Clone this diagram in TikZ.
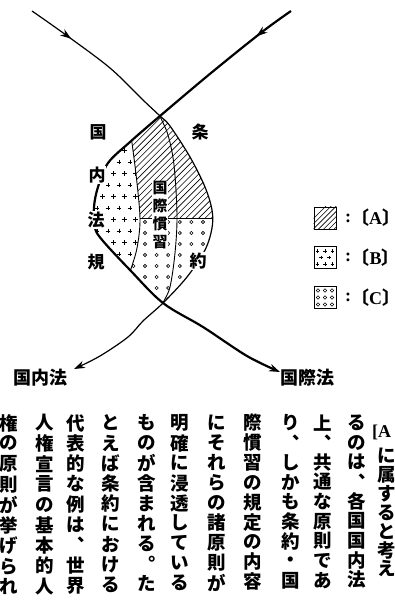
\documentclass[tikz,border=0pt]{standalone}
\usepackage{fontspec}
\setmainfont{Liberation Serif}
\newfontfamily\cjk{Noto Sans CJK JP}
\usetikzlibrary{arrows.meta,decorations.markings}
\begin{document}
\begin{tikzpicture}[x=1pt,y=-1pt,
  >={Stealth[length=11pt,width=7.5pt]},
  thinline/.style={line width=1.2pt},
  thickline/.style={line width=2.2pt},
  innerline/.style={line width=0.9pt},
  hatch/.style={line width=0.6pt},
  plusmark/.style={line width=0.7pt},
  ring/.style={line width=0.6pt},
  midarrow/.style={decoration={markings, mark=at position #1 with {\arrow{>}}}, postaction={decorate}},
  lbl/.style={font=\cjk\bfseries\fontsize{17}{17}\selectfont, inner sep=0.6pt, fill=white},
  endlbl/.style={font=\cjk\bfseries\fontsize{18}{18}\selectfont, inner sep=0pt},
  body/.style={font=\cjk\bfseries\fontsize{18.5}{18.5}\selectfont, inner sep=0pt},
  legbox/.style={draw, line width=0.9pt, minimum size=22pt, inner sep=0pt},
  legtext/.style={font=\bfseries\fontsize{18}{18}\selectfont, inner sep=0pt}
]
\useasboundingbox (0,0) rectangle (395,600);

\def\thinpath{plot[smooth,tension=0.55] coordinates {(32,11) (66,35) (110,68) (143,100) (160,116) (170,126) (190,157) (205,187) (212,210) (212,228) (205,250) (187,277) (163,303) (143,321) (128,337) (100,356) (74,369)}}
\def\thickpath{plot[smooth,tension=0.55] coordinates {(291,11) (262,32) (211,73) (160,116) (130,142) (108,163) (98,187) (94,207) (95,228) (103,241) (130,270) (163,303) (203,327) (247,356) (280,372)}}
\def\conepath{plot[smooth,tension=0.55] coordinates {(128,118) (132,143) (137,183) (140,220) (137,248) (130,272) (121,300)}}
\def\ctwopath{plot[smooth,tension=0.55] coordinates {(155,100) (160,116) (168,135) (174,165) (177,215) (175,253) (170,287) (163,303) (158,318)}}

\coordinate (T) at (160,116);
\coordinate (Bo) at (163,303);

% ---- filled regions inside the lens ----
\begin{scope}
  \clip \thinpath -- (-200,369) -- (-200,11) -- cycle;
  \clip \thickpath -- (600,372) -- (600,11) -- cycle;
  \begin{scope}
    \clip \conepath -- (-200,300) -- (-200,118) -- cycle;
    \foreach \j in {0,...,13} \foreach \i in {0,...,6}
      \draw[plusmark] ({86+11*\i+5.5*mod(\j,2)},{139+11.5*\j}) +(-2.3,0) -- +(2.3,0) +(0,-2.3) -- +(0,2.3);
  \end{scope}
  \begin{scope}
    \clip \conepath -- (600,300) -- (600,118) -- cycle;
    \begin{scope}
      \clip (100,100) rectangle (250,218);
      \foreach \k in {0,...,30} \draw[hatch] ({48+6.3*\k},224) -- ++(120,-120);
    \end{scope}
    \begin{scope}
      \clip (100,218) rectangle (250,320);
      \foreach \j in {0,...,8} \foreach \i in {0,...,7}
        \draw[ring] ({133.4+11.6*\i},{222+11*\j}) circle (1.6);
    \end{scope}
    \draw[innerline] (120,218) -- (230,218);
  \end{scope}
  \draw[innerline] \conepath;
  \draw[innerline] \ctwopath;
\end{scope}

% ---- the two main lines ----
\draw[thinline, ->, midarrow=48pt] \thinpath;
\draw[thickline, ->, midarrow=43pt] \thickpath;

% ---- labels in the figure ----
\node[lbl] (kuni) at (98,132) {国};
\node[lbl] (jo) at (200,132) {条};
\node[lbl] (nai) at (97,175) {内};
\node[lbl] (ho) at (96,220) {法};
\node[lbl] (ki) at (96,262) {規};
\node[lbl] (yaku) at (198,261) {約};
\node[font=\cjk\bfseries\fontsize{15}{18}\selectfont, align=center, fill=white, inner sep=0.5pt] (kanshu) at (160,215) {国\\際\\慣\\習};

\node[endlbl] (kokunai) at (40,378) {国内法};
\node[endlbl, anchor=west] (kokusai) at (280,378) {国際法};

% ---- legend ----
\node[legbox] (boxA) at (325,218) {};
\node[legbox] (boxB) at (325,257.5) {};
\node[legbox] (boxC) at (325,297.5) {};
\begin{scope}
  \clip (boxA.south west) rectangle (boxA.north east);
  \foreach \k in {0,...,9} \draw[hatch] ({300+5.2*\k},232) -- ++(30,-30);
\end{scope}
\foreach \y [count=\r] in {251,257.5,264}{
  \ifodd\r
    \foreach \x in {317.5,325,332.5} \draw[plusmark] (\x,\y) +(-1.9,0) -- +(1.9,0) +(0,-1.9) -- +(0,1.9);
  \else
    \foreach \x in {321,329} \draw[plusmark] (\x,\y) +(-1.9,0) -- +(1.9,0) +(0,-1.9) -- +(0,1.9);
  \fi
}
\foreach \y in {290.5,297.5,304.5} \foreach \x in {318,325,332}
  \draw[ring] (\x,\y) circle (1.8);

\node[legtext] (colA) at (348,218) {:};
\node[legtext] (colB) at (348,257.5) {:};
\node[legtext] (colC) at (348,297.5) {:};
\node[legtext] (labA) at (375.5,218) {\kern-0.5em{\cjk 〔}A{\cjk 〕}\kern-0.5em};
\node[legtext] (labB) at (375.5,257.5) {\kern-0.5em{\cjk 〔}B{\cjk 〕}\kern-0.5em};
\node[legtext] (labC) at (375.5,297.5) {\kern-0.5em{\cjk 〔}C{\cjk 〕}\kern-0.5em};

% ---- vertical body text ----
\node[font=\bfseries\fontsize{18}{18}\selectfont, anchor=west, inner sep=0pt] (brA) at (372,432) {[A};
\foreach \ch [count=\r] in {に,属,す,る,と,考,え}
  \node[body] (t1-\r) at (387,{456+18.8*(\r-1)}) {\ch};
\foreach \c/\x/\txt in {
  2/357/{る,の,は,︑,各,国,国,内,法},
  3/323/{上,︑,共,通,な,原,則,で,あ},
  4/291/{り,︑,し,か,も,条,約,・,国},
  5/253/{際,慣,習,の,規,定,の,内,容},
  6/217/{に,そ,れ,ら,の,諸,原,則,が},
  7/180/{明,確,に,浸,透,し,て,い,る},
  8/147/{も,の,が,含,ま,れ,る,︒,た},
  9/111/{と,え,ば,条,約,に,お,け,る},
  10/76/{代,表,的,な,例,は,︑,世,界},
  11/45/{人,権,宣,言,の,基,本,的,人},
  12/9/{権,の,原,則,が,挙,げ,ら,れ}}{
  \pgfmathsetmacro\pitch{19.4+0.09*\c}
  \foreach \ch [count=\r] in \txt
    \node[body] (t\c-\r) at (\x,{423+\pitch*(\r-1)}) {\ch};
}
\end{tikzpicture}
\end{document}
